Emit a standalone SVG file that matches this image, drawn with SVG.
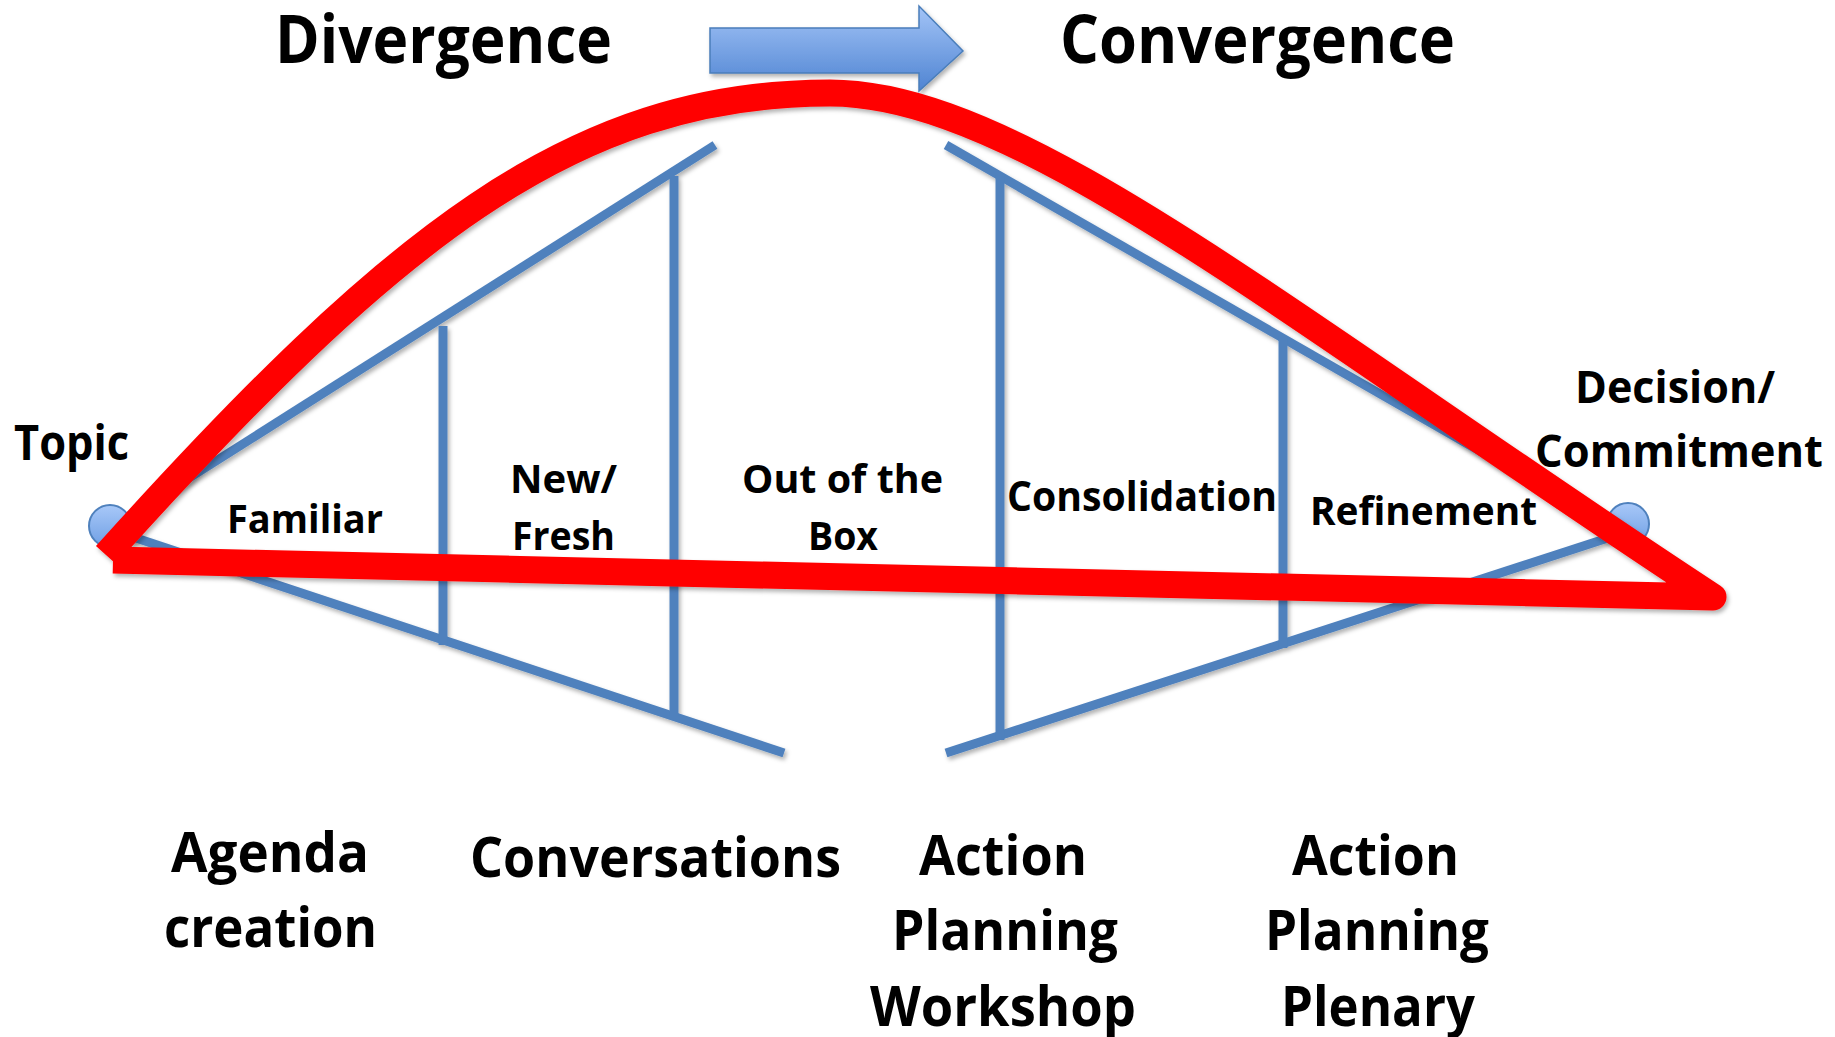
<svg xmlns="http://www.w3.org/2000/svg" width="1835" height="1037" viewBox="0 0 1835 1037">
  <defs>
    <linearGradient id="arrowGrad" x1="0" y1="0" x2="0" y2="1">
      <stop offset="0" stop-color="#a3c4f7"/>
      <stop offset="1" stop-color="#4f84d2"/>
    </linearGradient>
    <linearGradient id="dotGrad" x1="0" y1="0" x2="0" y2="1">
      <stop offset="0" stop-color="#a8c8f8"/>
      <stop offset="1" stop-color="#6f9fe4"/>
    </linearGradient>
    <filter id="shadow" x="-10%" y="-10%" width="120%" height="130%">
      <feDropShadow dx="2" dy="3" stdDeviation="2" flood-color="#000" flood-opacity="0.3"/>
    </filter>
  </defs>
  <style>
    .blue { stroke: #4f81bd; stroke-width: 9; fill: none; stroke-linecap: butt; }
    .red { stroke: #ff0000; stroke-width: 27; fill: none; stroke-linejoin: round; stroke-linecap: butt; }
    .dot { fill: url(#dotGrad); stroke: #4f81bd; stroke-width: 2; }
    text { font-family: "Open Sans", "Noto Sans", "Liberation Sans", sans-serif; font-weight: 700; fill: #000; }
    .title { font-size: 66px; }
    .big { font-size: 56px; }
    .mid { font-size: 42px; }
  </style>

  <g id="flow-arrow">
    <path d="M710 28 H919 V6 L963 51 L919 91 V73 H710 Z" fill="url(#arrowGrad)" stroke="#4a7ebb" stroke-width="1.5" filter="url(#shadow)"/>
  </g>

  <g id="connectors" filter="url(#shadow)">
    <line class="blue" x1="118" y1="523" x2="715" y2="145"/>
    <line class="blue" x1="118" y1="532" x2="784" y2="753"/>
    <line class="blue" x1="946" y1="145" x2="1614" y2="528"/>
    <line class="blue" x1="946" y1="753" x2="1614" y2="536"/>
    <line class="blue" x1="443" y1="326" x2="443" y2="645"/>
    <line class="blue" x1="674" y1="176" x2="674" y2="716"/>
    <line class="blue" x1="1000" y1="175" x2="1000" y2="740"/>
    <line class="blue" x1="1283" y1="336" x2="1283" y2="648"/>
  </g>

  <g id="topic-node">
    <circle class="dot" cx="110" cy="526" r="21"/>
  </g>
  <g id="decision-node">
    <circle class="dot" cx="1628" cy="524" r="21"/>
  </g>

  <g id="red-curve" filter="url(#shadow)">
    <path class="red" d="M113 560 L1713 597 C1290 320 1020 93 830 93 C570 93 390 240 106 555"/>
  </g>

  <g id="labels">
    <text class="title" x="275" y="63" textLength="337" lengthAdjust="spacingAndGlyphs">Divergence</text>
    <text class="title" x="1060" y="63" textLength="395" lengthAdjust="spacingAndGlyphs">Convergence</text>
    <text class="mid" x="14" y="460" textLength="115" lengthAdjust="spacingAndGlyphs" style="font-size:48px">Topic</text>
    <text class="mid" x="1575" y="403" textLength="200" lengthAdjust="spacingAndGlyphs" style="font-size:44px">Decision/</text>
    <text class="mid" x="1535" y="467" textLength="288" lengthAdjust="spacingAndGlyphs" style="font-size:44px">Commitment</text>
    <text class="mid" x="227" y="533" textLength="156" lengthAdjust="spacingAndGlyphs" style="font-size:40px">Familiar</text>
    <text class="mid" x="510" y="493" textLength="107" lengthAdjust="spacingAndGlyphs" style="font-size:40px">New/</text>
    <text class="mid" x="512" y="550" textLength="103" lengthAdjust="spacingAndGlyphs" style="font-size:40px">Fresh</text>
    <text class="mid" x="742" y="493" textLength="201" lengthAdjust="spacingAndGlyphs" style="font-size:40px">Out of the</text>
    <text class="mid" x="808" y="550" textLength="70" lengthAdjust="spacingAndGlyphs" style="font-size:40px">Box</text>
    <text class="mid" x="1007" y="511" textLength="270" lengthAdjust="spacingAndGlyphs" style="font-size:42px">Consolidation</text>
    <text class="mid" x="1310" y="525" textLength="227" lengthAdjust="spacingAndGlyphs" style="font-size:40px">Refinement</text>
    <text class="big" x="171" y="872" textLength="198" lengthAdjust="spacingAndGlyphs">Agenda</text>
    <text class="big" x="164" y="947" textLength="213" lengthAdjust="spacingAndGlyphs">creation</text>
    <text class="big" x="470" y="877" textLength="371" lengthAdjust="spacingAndGlyphs">Conversations</text>
    <text class="big" x="919" y="875" textLength="168" lengthAdjust="spacingAndGlyphs">Action</text>
    <text class="big" x="892" y="950" textLength="226" lengthAdjust="spacingAndGlyphs">Planning</text>
    <text class="big" x="870" y="1026" textLength="266" lengthAdjust="spacingAndGlyphs">Workshop</text>
    <text class="big" x="1292" y="875" textLength="167" lengthAdjust="spacingAndGlyphs">Action</text>
    <text class="big" x="1265" y="950" textLength="224" lengthAdjust="spacingAndGlyphs">Planning</text>
    <text class="big" x="1281" y="1026" textLength="194" lengthAdjust="spacingAndGlyphs">Plenary</text>
  </g>
</svg>
